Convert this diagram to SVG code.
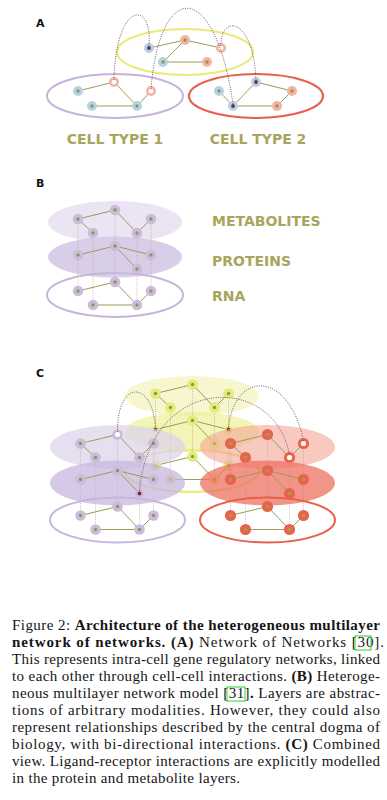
<svg xmlns="http://www.w3.org/2000/svg" xmlns:xlink="http://www.w3.org/1999/xlink" width="387" height="800" viewBox="0 0 387 800">
<style>
.pl{font-family:"DejaVu Sans",Verdana,sans-serif;font-weight:bold;font-size:11px;fill:#111}
.lbl{font-family:"DejaVu Sans",Verdana,sans-serif;font-weight:bold;font-size:14px;fill:#a8a55d}
.cap{font-family:"Liberation Serif","Times New Roman",serif;font-size:15px;fill:#151515}
.b{font-weight:bold}
.e{stroke:#9d9b55;stroke-width:1;fill:none}
.v{stroke:#c8a8a4;stroke-width:0.8;stroke-dasharray:1 1.2;fill:none}
.arc{stroke:#6e4a5a;stroke-width:0.9;stroke-dasharray:1 1.3;fill:none}
.ref{fill:none;stroke:#2bd62b;stroke-width:1}
</style>
<defs>
<g id="nb"><circle r="5" fill="#b5d2e6"/><circle r="1.7" fill="#8e9b42"/></g>
<g id="nbd"><circle r="5" fill="#b5d2e6"/><circle r="1.9" fill="#7a2a3a"/></g>
<g id="np"><circle r="5" fill="#f5b3a4"/><circle r="1.7" fill="#8e9b42"/></g>
<g id="npw"><circle r="5" fill="#f5b3a4"/><circle r="2.4" fill="#fff"/></g>
<g id="nv"><circle r="5.3" fill="#cbbbdf"/><circle r="1.7" fill="#8e9b42"/></g>
<g id="nvw"><circle r="5.3" fill="#cbbbdf"/><circle r="2.5" fill="#fff"/></g>
<g id="nvd"><circle r="4" fill="#cbbbdf"/><circle r="1.9" fill="#7a2a3a"/></g>
<g id="ny"><circle r="5.3" fill="#e3eb7c"/><circle r="1.7" fill="#8e9b42"/></g>
<g id="nyd"><circle r="4" fill="#e3eb7c"/><circle r="1.9" fill="#7a2a3a"/></g>
<g id="nr"><circle r="5.6" fill="#e8634d"/><circle r="1.7" fill="#9aa448"/></g>
<g id="nrw"><circle r="5.6" fill="#e8634d"/><circle r="2.6" fill="#fff"/></g>
</defs>

<!-- ===== Panel A ===== -->
<g id="panelA">
<text class="pl" x="36" y="27">A</text>
<ellipse id="a-cell3" cx="185" cy="52" rx="68" ry="23" fill="none" stroke="#eaea78" stroke-width="2"/>
<ellipse id="a-cell1" cx="115" cy="96" rx="68" ry="22" fill="none" stroke="#c7b2de" stroke-width="2"/>
<ellipse id="a-cell2" cx="256" cy="96" rx="67" ry="22" fill="none" stroke="#e6604a" stroke-width="2.2"/>
<g id="a-connectors">
<path class="e" d="M149,48 L185,40 L221,48 M185,40 L163,62 L207,62"/>
<path class="e" d="M78,91 L114,82 L137,106 L151,91 M92,106 L137,106"/>
<path class="e" d="M219,91 L233,106 L256,82 L292,91 L277,106 L233,106"/>
</g>
<g id="a-y1" transform="translate(149,48)"><use href="#nbd"/></g>
<g id="a-y2" transform="translate(185,40)"><use href="#np"/></g>
<g id="a-y3" transform="translate(221,48)"><use href="#npw"/></g>
<g id="a-y4" transform="translate(163,62)"><use href="#nb"/></g>
<g id="a-y5" transform="translate(207,62)"><use href="#np"/></g>
<g id="a-p1" transform="translate(78,91)"><use href="#nb"/></g>
<g id="a-p2" transform="translate(114,82)"><use href="#npw"/></g>
<g id="a-p3" transform="translate(151,91)"><use href="#npw"/></g>
<g id="a-p4" transform="translate(92,106)"><use href="#nb"/></g>
<g id="a-p5" transform="translate(137,106)"><use href="#nb"/></g>
<g id="a-r1" transform="translate(219,91)"><use href="#nb"/></g>
<g id="a-r2" transform="translate(256,82)"><use href="#nbd"/></g>
<g id="a-r3" transform="translate(292,91)"><use href="#np"/></g>
<g id="a-r4" transform="translate(233,106)"><use href="#nbd"/></g>
<g id="a-r5" transform="translate(277,106)"><use href="#np"/></g>
<g id="a-arcs">
<path class="arc" d="M114,80 C116,0 153,0 149,46"/>
<path class="arc" d="M151,89 C160,-21 215,-21 233,104"/>
<path class="arc" d="M221,46 C220,15 253,15 256,80"/>
</g>
<text class="lbl" x="115" y="144" text-anchor="middle">CELL TYPE 1</text>
<text class="lbl" x="258" y="144" text-anchor="middle">CELL TYPE 2</text>
</g>

<!-- ===== Panel B ===== -->
<g id="panelB">
<text class="pl" x="36" y="187">B</text>
<ellipse id="b-metab" cx="115" cy="222" rx="67" ry="21" fill="#ebe4f2"/>
<ellipse id="b-prot" cx="115" cy="257" rx="67" ry="20.5" fill="#d7cbe7" opacity="0.95"/>
<ellipse id="b-rna" cx="115" cy="295" rx="68" ry="22" fill="none" stroke="#c6b6dc" stroke-width="2"/>
<g id="b-connectors">
<path class="v" d="M78,219 V291 M115,210 V282 M151,219 V291 M93,233 V305 M137,233 V305"/>
<path class="e" d="M78,219 L115,210 L137,233 L151,219 M78,219 L93,233"/>
<path class="e" d="M78,255 L115,246 L151,255 M115,246 L137,269"/>
<path class="e" d="M78,291 L115,282 L137,305 L151,291 M93,305 L137,305"/>
</g>
<g id="b-m1" transform="translate(78,219)"><use href="#nv"/></g>
<g id="b-m2" transform="translate(115,210)"><use href="#nv"/></g>
<g id="b-m3" transform="translate(151,219)"><use href="#nv"/></g>
<g id="b-m4" transform="translate(93,233)"><use href="#nv"/></g>
<g id="b-m5" transform="translate(137,233)"><use href="#nv"/></g>
<g id="b-p1" transform="translate(78,255)"><use href="#nv"/></g>
<g id="b-p2" transform="translate(115,246)"><use href="#nv"/></g>
<g id="b-p3" transform="translate(151,255)"><use href="#nv"/></g>
<g id="b-p5" transform="translate(137,269)"><use href="#nv"/></g>
<g id="b-r1" transform="translate(78,291)"><use href="#nv"/></g>
<g id="b-r2" transform="translate(115,282)"><use href="#nv"/></g>
<g id="b-r3" transform="translate(151,291)"><use href="#nv"/></g>
<g id="b-r4" transform="translate(93,305)"><use href="#nv"/></g>
<g id="b-r5" transform="translate(137,305)"><use href="#nv"/></g>
<text class="lbl" x="212" y="226">METABOLITES</text>
<text class="lbl" x="212" y="266">PROTEINS</text>
<text class="lbl" x="212" y="301">RNA</text>
</g>

<!-- ===== Panel C ===== -->
<g id="panelC">
<text class="pl" x="36" y="377">C</text>

<!-- yellow cell -->
<g id="c-yellow">
<ellipse cx="192" cy="396" rx="67" ry="20" fill="#f1f1a8" opacity="0.55"/>
<ellipse cx="192" cy="432" rx="67" ry="20" fill="#eaef86" opacity="0.6"/>
<ellipse cx="192" cy="471" rx="67" ry="21" fill="none" stroke="#ebeb86" stroke-width="2.5"/>
<g id="c-yellow-connectors">
<path class="v" d="M155.5,393.5 V465.5 M192.5,384.5 V456.5 M228.5,393.5 V465.5 M170.5,407.5 V479.5 M214.5,407.5 V479.5"/>
<path class="e" d="M155.5,393.5 L192.5,384.5 L214.5,407.5 L228.5,393.5 M155.5,393.5 L170.5,407.5"/>
<path class="e" d="M155.5,429.5 L192.5,420.5 L228.5,429.5 M192.5,420.5 L214.5,443.5"/>
<path class="e" d="M155.5,465.5 L192.5,456.5 L214.5,479.5 L228.5,465.5 M170.5,479.5 L214.5,479.5"/>
</g>
<g id="c-ym1" transform="translate(155.5,393.5)"><use href="#ny"/></g>
<g id="c-ym2" transform="translate(192.5,384.5)"><use href="#ny"/></g>
<g id="c-ym3" transform="translate(228.5,393.5)"><use href="#ny"/></g>
<g id="c-ym4" transform="translate(170.5,407.5)"><use href="#ny"/></g>
<g id="c-ym5" transform="translate(214.5,407.5)"><use href="#ny"/></g>
<g id="c-yp1" transform="translate(155.5,429.5)"><use href="#nyd"/></g>
<g id="c-yp2" transform="translate(192.5,420.5)"><use href="#ny"/></g>
<g id="c-yp3" transform="translate(228.5,429.5)"><use href="#nyd"/></g>
<g id="c-yp5" transform="translate(214.5,443.5)"><use href="#ny"/></g>
<g id="c-yr1" transform="translate(155.5,465.5)"><use href="#ny"/></g>
<g id="c-yr2" transform="translate(192.5,456.5)"><use href="#ny"/></g>
<g id="c-yr3" transform="translate(228.5,465.5)"><use href="#ny"/></g>
<g id="c-yr4" transform="translate(170.5,479.5)"><use href="#ny"/></g>
<g id="c-yr5" transform="translate(214.5,479.5)"><use href="#ny"/></g>
</g>

<!-- metabolite layers of purple and red -->
<ellipse cx="117.5" cy="447" rx="67.5" ry="22" fill="#dcd2ea" opacity="0.72"/>
<ellipse cx="267.5" cy="447" rx="67.5" ry="22" fill="#f3a595" opacity="0.6"/>
<g id="c-metab-connectors">
<path class="v" d="M80.5,443.5 V515.5 M117.5,434.5 V506.5 M153.5,443.5 V515.5 M95.5,457.5 V529.5 M139.5,457.5 V529.5"/>
<path class="v" d="M230.5,443.5 V515.5 M267.5,434.5 V506.5 M303.5,443.5 V515.5 M245.5,457.5 V529.5 M289.5,457.5 V529.5"/>
<path class="e" d="M80.5,443.5 L117.5,434.5 L139.5,457.5 L153.5,443.5 M80.5,443.5 L95.5,457.5"/>
<path class="e" d="M230.5,443.5 L267.5,434.5 L289.5,457.5 L303.5,443.5 M230.5,443.5 L245.5,457.5"/>
</g>
<g id="c-pm1" transform="translate(80.5,443.5)"><use href="#nv"/></g>
<g id="c-pm2" transform="translate(117.5,434.5)"><use href="#nvw"/></g>
<g id="c-pm3" transform="translate(153.5,443.5)"><use href="#nv"/></g>
<g id="c-pm4" transform="translate(95.5,457.5)"><use href="#nv"/></g>
<g id="c-pm5" transform="translate(139.5,457.5)"><use href="#nv"/></g>
<g id="c-rm1" transform="translate(230.5,443.5)"><use href="#nr"/></g>
<g id="c-rm2" transform="translate(267.5,434.5)"><use href="#nr"/></g>
<g id="c-rm3" transform="translate(303.5,443.5)"><use href="#nrw"/></g>
<g id="c-rm4" transform="translate(245.5,457.5)"><use href="#nr"/></g>
<g id="c-rm5" transform="translate(289.5,457.5)"><use href="#nrw"/></g>

<!-- protein layers -->
<ellipse cx="117.5" cy="483" rx="67.5" ry="22.5" fill="#c8b7de" opacity="0.75"/>
<ellipse cx="267.5" cy="483" rx="67.5" ry="22.5" fill="#ec7260" opacity="0.75"/>
<g id="c-prot-connectors">
<path class="e" d="M80.5,479.5 L117.5,470.5 L153.5,479.5 M117.5,470.5 L139.5,493.5"/>
<path class="e" d="M230.5,479.5 L267.5,470.5 L303.5,479.5 M267.5,470.5 L289.5,493.5"/>
</g>
<g id="c-pp1" transform="translate(80.5,479.5)"><use href="#nv"/></g>
<g id="c-pp2" transform="translate(117.5,470.5)"><use href="#nv"/></g>
<g id="c-pp3" transform="translate(153.5,479.5)"><use href="#nv"/></g>
<g id="c-pp5" transform="translate(139.5,493.5)"><use href="#nvd"/></g>
<g id="c-rp1" transform="translate(230.5,479.5)"><use href="#nr"/></g>
<g id="c-rp2" transform="translate(267.5,470.5)"><use href="#nr"/></g>
<g id="c-rp3" transform="translate(303.5,479.5)"><use href="#nr"/></g>
<g id="c-rp5" transform="translate(289.5,493.5)"><use href="#nr"/></g>

<!-- RNA layers -->
<ellipse cx="117.5" cy="520" rx="67.5" ry="22.5" fill="none" stroke="#c6b6dc" stroke-width="2"/>
<ellipse cx="267.5" cy="520" rx="67.5" ry="22.5" fill="none" stroke="#e6604a" stroke-width="2"/>
<g id="c-rna-connectors">
<path class="e" d="M80.5,515.5 L117.5,506.5 L139.5,529.5 L153.5,515.5 M95.5,529.5 L139.5,529.5"/>
<path class="e" d="M230.5,515.5 L267.5,506.5 L289.5,529.5 L303.5,515.5 M245.5,529.5 L289.5,529.5"/>
</g>
<g id="c-pr1" transform="translate(80.5,515.5)"><use href="#nv"/></g>
<g id="c-pr2" transform="translate(117.5,506.5)"><use href="#nv"/></g>
<g id="c-pr3" transform="translate(153.5,515.5)"><use href="#nv"/></g>
<g id="c-pr4" transform="translate(95.5,529.5)"><use href="#nv"/></g>
<g id="c-pr5" transform="translate(139.5,529.5)"><use href="#nv"/></g>
<g id="c-rr1" transform="translate(230.5,515.5)"><use href="#nr"/></g>
<g id="c-rr2" transform="translate(267.5,506.5)"><use href="#nr"/></g>
<g id="c-rr3" transform="translate(303.5,515.5)"><use href="#nr"/></g>
<g id="c-rr4" transform="translate(245.5,529.5)"><use href="#nr"/></g>
<g id="c-rr5" transform="translate(289.5,529.5)"><use href="#nr"/></g>

<g id="c-arcs">
<path class="arc" d="M117.5,432 C117,379.5 152,379.5 155.5,427"/>
<path class="arc" d="M139.5,491 C150,373 275,373 289.5,455"/>
<path class="arc" d="M228.5,427 C235,370 289,370 303.5,441"/>
</g>
</g>

<!-- ===== Caption ===== -->
<g id="caption" class="cap">
<text x="12" y="630" textLength="368" lengthAdjust="spacing">Figure 2: <tspan class="b">Architecture of the heterogeneous multilayer</tspan></text>
<text x="12" y="647" textLength="372" lengthAdjust="spacing"><tspan class="b">network of networks.</tspan>  <tspan class="b">(A)</tspan> Network of Networks [30].</text>
<text x="12" y="664" textLength="368" lengthAdjust="spacing">This represents intra-cell gene regulatory networks, linked</text>
<text x="12" y="681" textLength="368" lengthAdjust="spacing">to each other through cell-cell interactions. <tspan class="b">(B)</tspan> Heteroge-</text>
<text x="12" y="698" textLength="368" lengthAdjust="spacing">neous multilayer network model [31]<tspan class="b">.</tspan> Layers are abstrac-</text>
<text x="12" y="715" textLength="368" lengthAdjust="spacing">tions of arbitrary modalities.  However, they could also</text>
<text x="12" y="732" textLength="368" lengthAdjust="spacing">represent relationships described by the central dogma of</text>
<text x="12" y="749" textLength="368" lengthAdjust="spacing">biology, with bi-directional interactions.  <tspan class="b">(C)</tspan> Combined</text>
<text x="12" y="766" textLength="368" lengthAdjust="spacing">view. Ligand-receptor interactions are explicitly modelled</text>
<text x="12" y="783" textLength="228" lengthAdjust="spacing">in the protein and metabolite layers.</text>
<rect class="ref" x="355" y="636" width="16" height="14"/>
<rect class="ref" x="227" y="687" width="18" height="14"/>
</g>
</svg>
